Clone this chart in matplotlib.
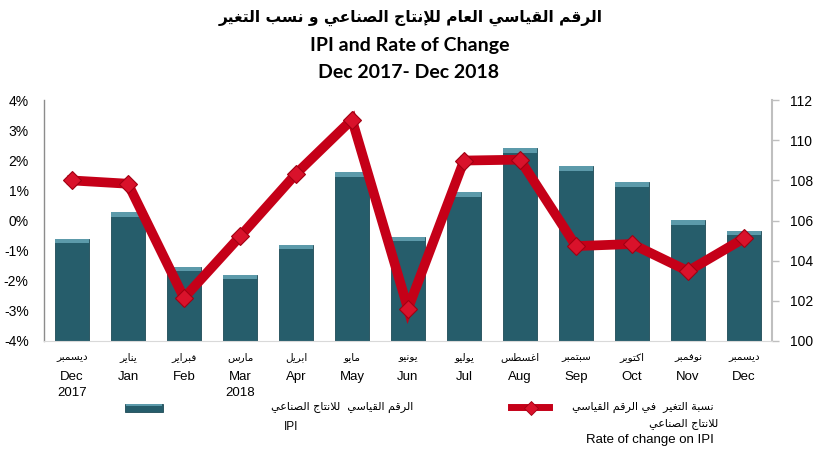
import matplotlib
matplotlib.use('Agg')
import matplotlib.pyplot as plt
import numpy as np
from matplotlib.lines import Line2D
from matplotlib.patches import Rectangle
from matplotlib.transforms import blended_transform_factory

# ---------------- data ----------------
months_en = ['Dec', 'Jan', 'Feb', 'Mar', 'Apr', 'May', 'Jun', 'Jul', 'Aug', 'Sep', 'Oct', 'Nov', 'Dec']
months_ar = ['ديسمبر', 'يناير', 'فبراير', 'مارس', 'ابريل', 'مايو', 'يونيو', 'يوليو',
             'اغسطس', 'سبتمبر', 'اكتوبر', 'نوفمبر', 'ديسمبر']
years = ['2017', '', '', '2018', '', '', '', '', '', '', '', '', '']
ipi = [105.1, 106.4, 103.7, 103.3, 104.8, 108.4, 105.2, 107.4, 109.6, 108.7, 107.9, 106.0, 105.5]
rate = [1.33, 1.22, -2.57, -0.53, 1.55, 3.35, -2.93, 1.99, 2.02, -0.85, -0.78, -1.68, -0.59]
rate_ticks = [-4, -3, -2, -1, 0, 1, 2, 3, 4]
ipi_ticks = [100, 102, 104, 106, 108, 110, 112]

title_ar = 'الرقم القياسي العام للإنتاج الصناعي و نسب التغير'
title_en1 = 'IPI and Rate of Change'
title_en2 = 'Dec 2017- Dec 2018'
leg_bar_ar = 'الرقم القياسي  للانتاج الصناعي'
leg_bar_en = 'IPI'
leg_line_ar1 = 'نسبة التغير  في الرقم القياسي'
leg_line_ar2 = 'للانتاج الصناعي'
leg_line_en = 'Rate of change on IPI'

# ---------------- Arabic shaping (presentation forms, visual order) ----------------
_DUAL = {'ئ': 0xFE89, 'ب': 0xFE8F, 'ت': 0xFE95, 'ث': 0xFE99, 'ج': 0xFE9D, 'ح': 0xFEA1, 'خ': 0xFEA5,
         'س': 0xFEB1, 'ش': 0xFEB5, 'ص': 0xFEB9, 'ض': 0xFEBD, 'ط': 0xFEC1, 'ظ': 0xFEC5, 'ع': 0xFEC9,
         'غ': 0xFECD, 'ف': 0xFED1, 'ق': 0xFED5, 'ك': 0xFED9, 'ل': 0xFEDD, 'م': 0xFEE1, 'ن': 0xFEE5,
         'ه': 0xFEE9, 'ي': 0xFEF1}
_RIGHT = {'آ': 0xFE81, 'أ': 0xFE83, 'ؤ': 0xFE85, 'إ': 0xFE87, 'ا': 0xFE8D, 'ة': 0xFE93, 'د': 0xFEA9,
          'ذ': 0xFEAB, 'ر': 0xFEAD, 'ز': 0xFEAF, 'و': 0xFEED, 'ى': 0xFEEF}
_LAMALEF = {'آ': 0xFEF5, 'أ': 0xFEF7, 'إ': 0xFEF9, 'ا': 0xFEFB}


def shape(s):
    chars = []
    i = 0
    while i < len(s):
        c = s[i]
        if c == 'ل' and i + 1 < len(s) and s[i + 1] in _LAMALEF:
            chars.append(('LA', s[i + 1]))
            i += 2
        else:
            chars.append(c)
            i += 1

    def joins_next(c):
        return isinstance(c, str) and c in _DUAL

    def is_letter(c):
        return isinstance(c, tuple) or c in _DUAL or c in _RIGHT

    out = []
    for k, c in enumerate(chars):
        prev = chars[k - 1] if k > 0 else None
        nxt = chars[k + 1] if k + 1 < len(chars) else None
        p = prev is not None and joins_next(prev)
        if isinstance(c, tuple):
            out.append(chr(_LAMALEF[c[1]] + (1 if p else 0)))
        elif c in _DUAL:
            n = nxt is not None and is_letter(nxt)
            idx = 3 if (p and n) else 1 if p else 2 if n else 0
            out.append(chr(_DUAL[c] + idx))
        elif c in _RIGHT:
            out.append(chr(_RIGHT[c] + (1 if p else 0)))
        else:
            out.append(c)
    return ''.join(reversed(out))


# ---------------- figure ----------------
W, H = 817, 463
fig = plt.figure(figsize=(W / 100, H / 100), dpi=100)

def fx(px):
    return px / W

def fy(py):
    return 1 - py / H

ax = fig.add_axes([fx(44), fy(341), fx(772) - fx(44), fy(100) - fy(341)])
ax2 = ax.twinx()
ax.set_zorder(ax2.get_zorder() + 1)
ax.patch.set_visible(False)

x = np.arange(len(months_en))
bar_col = '#265D6B'
top_col = '#5C9AAA'
ipi_arr = np.array(ipi)
ax2.bar(x, ipi_arr - 100, bottom=100, width=0.61, color=bar_col, edgecolor='#1D4A56', linewidth=0.6, zorder=2)
ax2.bar(x, 0.22, bottom=ipi_arr - 0.22, width=0.61, color=top_col, edgecolor='none', linewidth=0, zorder=3)

ax.plot(x, rate, color='#C50018', linewidth=7, solid_joinstyle='miter', zorder=4)
ax.plot(x, rate, linestyle='none', marker='D', markersize=9, markerfacecolor='#D9122B',
        markeredgecolor='#A00012', markeredgewidth=0.8, zorder=5)

ax.set_xlim(-0.5, len(x) - 0.5)
ax2.set_xlim(-0.5, len(x) - 0.5)
ax.set_ylim(-4, 4)
ax2.set_ylim(100, 112)
ax.set_xticks([])
ax2.set_xticks([])

ax.set_yticks(rate_ticks)
ax.set_yticklabels([f'{v}%' for v in rate_ticks], fontsize=10, family=['Liberation Sans', 'DejaVu Sans'])
ax.tick_params(axis='y', length=0, pad=11)
ax2.set_yticks(ipi_ticks)
ax2.set_yticklabels([str(v) for v in ipi_ticks], fontsize=10, family=['Liberation Sans', 'DejaVu Sans'])
ax2.tick_params(axis='y', length=5, width=1, color='#BFBFBF', direction='out', pad=8)

for a in (ax, ax2):
    a.spines['top'].set_visible(False)
ax.spines['right'].set_visible(False)
ax.spines['left'].set_color('#8C8C8C')
ax.spines['left'].set_linewidth(1)
ax.spines['bottom'].set_color('#D9D9D9')
ax2.spines['left'].set_visible(False)
ax2.spines['bottom'].set_visible(False)
ax2.spines['right'].set_color('#BFBFBF')
ax2.spines['right'].set_linewidth(1.5)

# category labels
tr = blended_transform_factory(ax.transData, fig.transFigure)
for i in range(len(x)):
    ax.text(x[i], fy(357), shape(months_ar[i]), transform=tr, ha='center', va='center',
            fontsize=7.5, family=['DejaVu Sans'])
    ax.text(x[i], fy(377), months_en[i], transform=tr, ha='center', va='center',
            fontsize=9.5, family=['Liberation Sans', 'DejaVu Sans'])
    if years[i]:
        ax.text(x[i], fy(393), years[i], transform=tr, ha='center', va='center',
                fontsize=9.5, family=['Liberation Sans', 'DejaVu Sans'])

# titles
fig.text(fx(411), fy(18), shape(title_ar), ha='center', va='center', fontsize=11.2,
         fontweight='bold', family=['DejaVu Sans'])
fig.text(fx(410), fy(46), title_en1, ha='center', va='center', fontsize=14,
         fontweight='bold', family=['Lato', 'DejaVu Sans'])
fig.text(fx(409), fy(72), title_en2, ha='center', va='center', fontsize=14,
         fontweight='bold', family=['Lato', 'DejaVu Sans'])

# legend
fig.add_artist(Rectangle((fx(125), fy(412)), fx(163) - fx(125), fy(404) - fy(412),
                         transform=fig.transFigure, facecolor=bar_col, edgecolor='#1D4A56', linewidth=0.6))
fig.add_artist(Rectangle((fx(126), fy(406)), fx(162) - fx(126), fy(404) - fy(406),
                         transform=fig.transFigure, facecolor=top_col, edgecolor='none'))
fig.text(fx(413), fy(407), shape(leg_bar_ar), ha='right', va='center', fontsize=8,
         family=['DejaVu Sans'])
fig.text(fx(291), fy(427), leg_bar_en, ha='center', va='center', fontsize=8.5,
         family=['Liberation Sans', 'DejaVu Sans'])

fig.add_artist(Line2D([fx(511), fx(549)], [fy(407), fy(407)], transform=fig.transFigure,
                      color='#C50018', linewidth=5))
fig.add_artist(Line2D([fx(531)], [fy(408)], transform=fig.transFigure, linestyle='none',
                      marker='D', markersize=7, markerfacecolor='#D9122B', markeredgecolor='#A00012',
                      markeredgewidth=0.6))
fig.text(fx(714), fy(407), shape(leg_line_ar1), ha='right', va='center', fontsize=8,
         family=['DejaVu Sans'])
fig.text(fx(718), fy(424), shape(leg_line_ar2), ha='right', va='center', fontsize=8,
         family=['DejaVu Sans'])
fig.text(fx(714), fy(440), leg_line_en, ha='right', va='center', fontsize=9.5,
         family=['Liberation Sans', 'DejaVu Sans'])

fig.savefig('out.png', dpi=100, facecolor='white')
